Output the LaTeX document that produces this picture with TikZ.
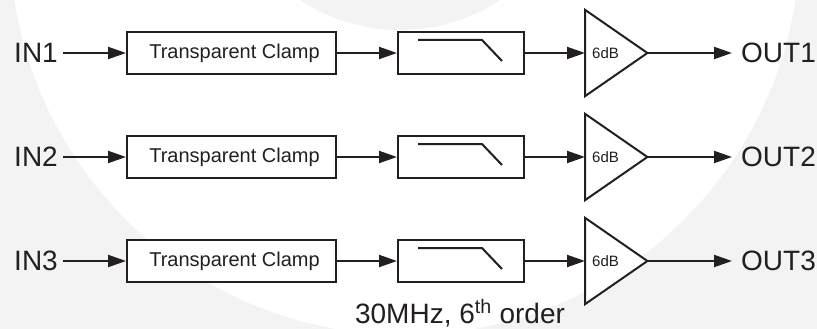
\documentclass[tikz,border=0pt]{standalone}
\usepackage{fontspec}
\setmainfont{Liberation Sans}
\usetikzlibrary{arrows.meta,calc}
\definecolor{ink}{RGB}{35,31,32}
\definecolor{wm}{RGB}{243,243,243}
\begin{document}
\begin{tikzpicture}[x=1pt,y=-1pt,
  blk/.style={draw=ink,line width=2pt,minimum height=42pt,inner sep=0pt,fill=white,text=ink},
  conn/.style={draw=ink,line width=2pt,-{Triangle[length=18pt,width=12pt]}},
  io/.style={text=ink,font=\fontsize{28}{30}\selectfont,inner ysep=0pt},
  clampfont/.style={font=\fontsize{20}{22}\selectfont},
  gainfont/.style={font=\fontsize{15}{16}\selectfont,text=ink,inner sep=0pt},
  ampbox/.style={minimum width=62pt,minimum height=86pt,inner sep=0pt},
  tri/.style={draw=ink,line width=2pt,fill=white,line join=miter},
  sym/.style={draw=ink,line width=2pt}
]
% background watermark
\fill[wm] (0,0) rectangle (817,329);
\begin{scope}
  \clip (0,0) rectangle (817,329);
  \fill[white] (405,-60) circle[radius=395];
  \fill[wm] (400,-152) circle[radius=182];
\end{scope}
\useasboundingbox (0,0) rectangle (817,329);

\foreach \i/\y in {1/53,2/157,3/261}{
  \node[io,anchor=east,inner xsep=5pt] (in\i) at (63,\y) {IN\i};
  \node[blk,clampfont,minimum width=209pt,anchor=west] (clamp\i) at (126,\y) {\hspace*{6pt}Transparent Clamp};
  \node[blk,minimum width=126pt,anchor=west] (filt\i) at (397,\y) {};
  \draw[sym] ($(filt\i.north west)+(21,9)$) -- ++(64,0) -- ++(20,21);
  \node[ampbox,anchor=west] (amp\i) at (585,\y) {};
  \draw[tri] (amp\i.north west) -- (amp\i.east) -- (amp\i.south west) -- cycle;
  \node[gainfont,anchor=west] (gain\i) at ($(amp\i.west)+(7,0)$) {6dB};
  \node[io,anchor=west,inner xsep=9pt] (out\i) at (732,\y) {OUT\i};
  \draw[conn] (in\i.east) -- (clamp\i.west);
  \draw[conn] (clamp\i.east) -- (filt\i.west);
  \draw[conn] (filt\i.east) -- (amp\i.west);
  \draw[conn] (amp\i.east) -- (out\i.west);
}
\node[io,anchor=base,inner sep=0pt] (note) at (460,323) {30MHz, 6\textsuperscript{th} order};
\end{tikzpicture}
\end{document}
